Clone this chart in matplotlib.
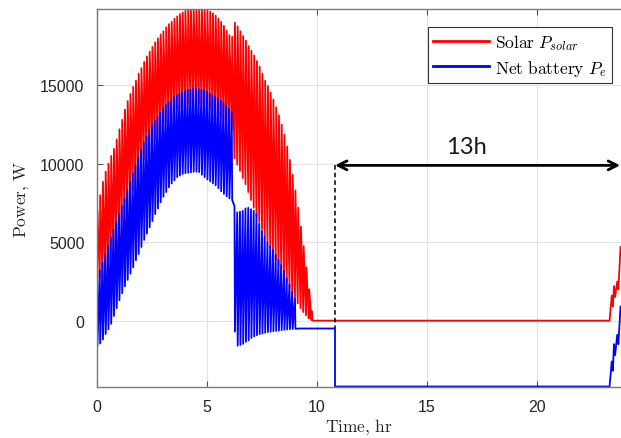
import numpy as np
import matplotlib
matplotlib.use("Agg")
import matplotlib.pyplot as plt

plt.rcParams['mathtext.fontset'] = 'cm'
plt.rcParams['font.family'] = ['Liberation Sans', 'DejaVu Sans']

# ---- data ----
# one switching cycle every 1/8 h; per-cycle peak and trough values (W)
solar_peak = [7000, 8000, 8850, 9500, 10000, 10500, 10950, 11550, 12200, 12800, 13450, 14000,
              14450, 14900, 15300, 15750, 16100, 16500, 16850, 17150, 17450, 17750, 18000,
              18250, 18450, 18700, 18900, 19050, 19250, 19400, 19550, 19650, 19750, 19800,
              19840, 19870, 19870, 19850, 19810, 19780, 19750, 19700, 19600, 19450, 19250,
              19050, 18800, 18500, 18200, 18100, 19000, 18750, 18450, 18150, 17850, 17500,
              17200, 16900, 16550, 16200, 15750, 15300, 14950, 14550, 14100, 13600, 13100,
              12500, 11850, 11100, 10250, 9300, 8300, 7200, 6000, 4750, 3400, 2000, 600]
solar_trough = [2700, 2700, 2750, 2950, 3400, 4000, 4550, 5200, 5800, 6350, 6900, 7400, 7900,
                8400, 8800, 9300, 9800, 10250, 10650, 10950, 11250, 11550, 11900, 12150, 12400,
                12650, 12900, 13050, 13250, 13400, 13550, 13650, 13750, 13800, 13850, 13900,
                13900, 13850, 13780, 13700, 13600, 13480, 13350, 13220, 13100, 12950, 12780,
                12600, 12400, 12200, 10350, 9950, 9550, 9100, 8700, 8200, 7700, 7200, 6700,
                6300, 5850, 5400, 5050, 4650, 4300, 3900, 3550, 3200, 2800, 2400, 2050, 1700,
                1400, 1100, 800, 550, 350, 150, 50]
battery_peak = [2700, 3200, 3700, 4200, 4750, 5300, 5800, 6300, 6800, 7300, 7800, 8300, 8850,
                9400, 9900, 10400, 10900, 11350, 11750, 12100, 12450, 12750, 13000, 13250,
                13500, 13750, 13950, 14100, 14250, 14370, 14470, 14560, 14650, 14710, 14760,
                14800, 14800, 14770, 14720, 14660, 14600, 14480, 14360, 14270, 14180, 14050,
                13880, 13700, 13500, 13300, 7300, 6900, 6950, 7000, 7150, 7200, 7100, 7000,
                6800, 6200, 5750, 5350, 5000, 4750, 4500, 4200, 3900, 3550, 3150, 2700, 2300,
                1850, 1400]
battery_trough = [-1600, -1450, -1200, -850, -550, -200, 300, 800, 1300, 1750, 2200, 2600,
                  3000, 3400, 3850, 4250, 4700, 5150, 5550, 5950, 6350, 6800, 7150, 7550, 7900,
                  8200, 8500, 8750, 8950, 9150, 9250, 9350, 9400, 9430, 9460, 9490, 9500, 9470,
                  9300, 9150, 9000, 8880, 8750, 8630, 8450, 8250, 8080, 7930, 7800, 7700, -700,
                  -1600, -1550, -1480, -1350, -1250, -1100, -1000, -930, -860, -820, -770,
                  -730, -700, -680, -655, -630, -605, -585, -565, -550, -535, -520]
cycle_hours = 1 / 8
# night segments (time h, power W)
solar_night_t = [9.8, 23.3, 23.4, 23.45, 23.5, 23.55, 23.65, 23.7, 23.8]
solar_night_p = [0, 0, 1600, 900, 2200, 1500, 2500, 2000, 4700]
battery_night_t = [9.2, 10.82, 10.82, 23.3, 23.4, 23.45, 23.5, 23.55, 23.65, 23.7, 23.8]
battery_night_p = [-500, -500, -4200, -4200, -2600, -3200, -1500, -2200, -900, -1500, 900]


def sawtooth(hi, lo, spike_up):
    xs, ys = [], []
    for k, (h, l) in enumerate(zip(hi, lo)):
        t = k * cycle_hours
        xs += [t, t + 0.02]
        ys += ([l, h] if spike_up else [h, l])
    return xs, ys


sx, sy = sawtooth(solar_peak, solar_trough, True)
sx += solar_night_t
sy += solar_night_p
bx, by = sawtooth(battery_peak, battery_trough, False)
bx += battery_night_t
by += battery_night_p

fig = plt.figure(figsize=(6.21, 4.39), dpi=100)
ax = fig.add_axes([97/621, 1-388/439, (621-97)/621, (388-10)/439])

ax.plot(sx, sy, color=(1, 0, 0), lw=1.3, label=r'$\mathrm{Solar}\ P_{solar}$')
ax.plot(bx, by, color=(0, 0, 1), lw=1.3, label=r'$\mathrm{Net\ battery}\ P_{e}$')

ax.set_xlim(0, 23.82)
ax.set_ylim(-4230, 19870)
ax.set_xticks([0, 5, 10, 15, 20])
ax.set_yticks([0, 5000, 10000, 15000])
ax.grid(True, color='#e3e3e3', lw=0.8)
ax.set_axisbelow(True)
ax.tick_params(direction='in', length=4, colors='#555555', labelcolor='#262626',
               labelsize=11.5, top=True, right=False, pad=9)
for s in ['left', 'bottom', 'top']:
    ax.spines[s].set_color('#7a7a7a')
    ax.spines[s].set_linewidth(1.0)
ax.spines['right'].set_visible(False)

ax.set_xlabel(r'$\mathrm{Time,\,hr}$', fontsize=12.5, color='#262626', labelpad=2)
ax.set_ylabel(r'$\mathrm{Power,\,W}$', fontsize=12.5, color='#262626', labelpad=6)

leg = ax.legend(loc='upper right', bbox_to_anchor=(0.983, 0.952), borderaxespad=0,
                fancybox=False, framealpha=1, edgecolor='#333333', fontsize=12.5,
                handlelength=3.2, handletextpad=0.4, labelspacing=0.3, borderpad=0.3)
leg.get_frame().set_linewidth(0.8)
for line in leg.get_lines():
    line.set_linewidth(2)

# annotation: 13 h gap
ax.annotate('', xy=(10.82, 9900), xytext=(23.78, 9900),
            arrowprops=dict(arrowstyle='<->', lw=2, color='black', mutation_scale=16,
                            shrinkA=0, shrinkB=0), annotation_clip=False)
ax.plot([10.82, 10.82], [9900, -500], color='black', lw=1.1, ls=(0, (3, 2)))
ax.text(16.8, 11100, '13h', fontsize=17, family=['Lato', 'DejaVu Sans'],
        ha='center', va='center', color='#1a1a1a')

fig.savefig('out.png', dpi=100)
